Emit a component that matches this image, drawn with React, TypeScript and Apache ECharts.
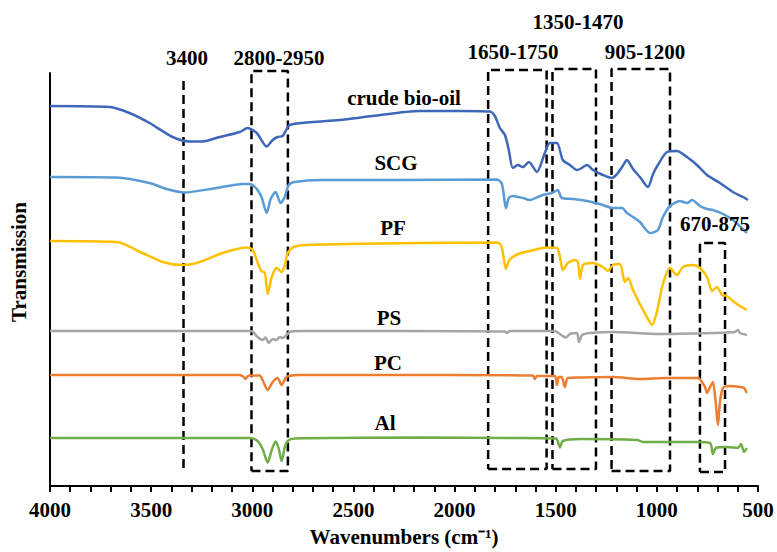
import React, { useEffect, useRef } from "react";
import * as echarts from "echarts";

// Wavenumber (cm-1) / transmission (arbitrary, offset) pairs
const crudeBioOil: [number, number][] = [
  [4000, 380], [3705, 379], [3607, 373], [3508, 363], [3394, 349], [3310, 344.5], [3246, 344.5],
  [3161, 349], [3062, 354], [3023, 358], [2978, 353], [2929, 339.5], [2899, 346], [2875, 349],
  [2850, 350], [2835, 355], [2815, 361], [2731, 363.5], [2568, 366], [2405, 370], [2173, 375],
  [1975, 375], [1826, 374.5], [1801, 370], [1776, 358], [1751, 351], [1732, 336], [1712, 318],
  [1687, 321], [1662, 319], [1633, 324], [1593, 314], [1554, 333], [1529, 343], [1494, 343],
  [1465, 326], [1430, 321], [1395, 316], [1380, 317], [1345, 321], [1316, 316], [1267, 311],
  [1222, 308], [1197, 312], [1172, 319], [1148, 326], [1118, 317], [1084, 309], [1044, 299],
  [1019, 312], [995, 321], [950, 334], [901, 335], [851, 329], [802, 321], [752, 311],
  [688, 303], [624, 294], [574, 289], [550, 286],
];
const scg: [number, number][] = [
  [4000, 309], [3671, 308.5], [3508, 303], [3424, 297], [3335, 293.5], [3176, 298], [3048, 302],
  [3013, 302], [2993, 300], [2974, 296], [2954, 289], [2929, 273], [2909, 287], [2885, 294],
  [2860, 283], [2840, 289], [2820, 301], [2791, 304], [2667, 306], [2271, 306], [1791, 306.5],
  [1766, 302], [1746, 278], [1732, 288], [1712, 290], [1662, 288], [1628, 286], [1564, 291],
  [1519, 293], [1490, 296], [1470, 288], [1415, 287], [1345, 285], [1282, 282], [1217, 278],
  [1172, 278], [1148, 273], [1118, 269], [1084, 264], [1034, 253], [995, 256], [970, 269],
  [935, 280], [886, 285], [851, 283], [826, 286], [787, 280], [752, 277], [723, 276],
  [673, 272], [624, 266], [555, 253],
];
const pf: [number, number][] = [
  [4000, 245], [3671, 244], [3543, 233], [3443, 224], [3349, 221], [3275, 223], [3146, 233],
  [3028, 238.5], [2998, 236], [2969, 221], [2949, 214], [2939, 214], [2924, 192], [2904, 209],
  [2880, 218], [2855, 214], [2840, 220], [2825, 233], [2796, 239], [2731, 241], [2173, 243],
  [1786, 243.5], [1766, 238], [1746, 217], [1732, 225], [1697, 231], [1628, 235], [1544, 238.5],
  [1494, 238], [1479, 229], [1465, 216], [1440, 223], [1405, 226], [1390, 224], [1380, 207],
  [1365, 221], [1316, 223], [1267, 219], [1242, 215], [1217, 221], [1183, 222], [1158, 204],
  [1143, 208], [1118, 196], [1084, 182], [1049, 169], [1024, 161], [1000, 174], [970, 202],
  [935, 218], [901, 211], [871, 219], [821, 221], [787, 218], [752, 209], [727, 195],
  [703, 199], [678, 191], [653, 190], [624, 185], [589, 180], [555, 176],
];
const ps: [number, number][] = [
  [4000, 155], [3508, 155], [3013, 155], [2998, 154.5], [2974, 149], [2949, 146], [2934, 148.5],
  [2919, 143], [2899, 147], [2880, 146], [2865, 149], [2850, 148], [2830, 151], [2815, 154],
  [2766, 155], [2271, 155], [1751, 154.5], [1741, 153], [1727, 155], [1504, 155], [1490, 153.5],
  [1465, 150], [1450, 148.5], [1430, 152], [1395, 153], [1385, 144], [1370, 151], [1331, 153],
  [1217, 154], [985, 152], [723, 153], [614, 154], [599, 156], [589, 153], [555, 151],
];
const pc: [number, number][] = [
  [4000, 111], [3062, 111], [3042, 109], [3033, 107], [3018, 110.5], [2964, 110.5], [2949, 106],
  [2924, 96], [2899, 104], [2875, 108], [2855, 101], [2835, 108], [2820, 110], [2766, 111],
  [2024, 111], [1613, 110.5], [1603, 107], [1593, 110], [1504, 110], [1494, 101], [1485, 109],
  [1470, 109], [1455, 99], [1440, 108], [1380, 108.5], [1217, 109], [1084, 107], [950, 108],
  [797, 108], [762, 99], [752, 93], [737, 99], [723, 104], [708, 81], [698, 61], [688, 84],
  [673, 98], [638, 100], [589, 99], [569, 98], [555, 93],
];
const al: [number, number][] = [
  [4000, 48], [3013, 48], [2974, 45], [2949, 37], [2924, 23.5], [2904, 36], [2885, 44.5],
  [2870, 38], [2855, 25], [2840, 38], [2825, 45], [2791, 47.5], [2173, 48.5], [1712, 48],
  [1499, 47.5], [1490, 45], [1479, 38.5], [1465, 45], [1380, 47], [1098, 46], [1069, 44],
  [802, 44], [737, 43], [723, 32], [708, 38], [653, 39], [599, 38], [584, 42], [569, 34], [555, 38],
];

const seriesNames = ["crude bio-oil", "SCG", "PF", "PS", "PC", "Al"];
const seriesData = [crudeBioOil, scg, pf, ps, pc, al];
const seriesColors = ["#3E67BA", "#5B9BD5", "#FFC000", "#A5A5A5", "#ED7D31", "#70AD47"];

// Highlighted band regions: [low wavenumber, high wavenumber, bottom, top]
const bandBoxes: [number, number, number, number][] = [
  [2824, 3004, 15, 415],
  [1545, 1834, 17, 416],
  [1301, 1516, 17, 417],
  [935, 1224, 15, 417],
  [663, 787, 14, 243],
];
const bandLine: [number, number, number] = [3340, 18, 408];
const bandLabels = ["3400", "2800-2950", "1650-1750", "1350-1470", "905-1200", "670-875"];
const xTicks = { min: 500, max: 4000, interval: 500 };

const FONT = "'Liberation Serif', 'Times New Roman', serif";

export default function App() {
  const ref = useRef<HTMLDivElement>(null);
  useEffect(() => {
    if (!ref.current) return;
    const chart = echarts.init(ref.current, undefined, { renderer: "svg" });
    const dash = [9, 5];
    const boxSeries = bandBoxes.map(([lo, hi, b, t]) => ({
      type: "line",
      data: [[hi, b], [lo, b], [lo, t], [hi, t], [hi, b]],
      showSymbol: false,
      symbol: "none",
      clip: false,
      silent: true,
      lineStyle: { color: "#000", width: 2.5, type: dash },
      z: 1,
    }));
    const lineSeries = {
      type: "line",
      data: [[bandLine[0], bandLine[1]], [bandLine[0], bandLine[2]]],
      symbol: "none",
      clip: false,
      silent: true,
      lineStyle: { color: "#000", width: 2.5, type: dash },
      z: 1,
    };
    const traces = seriesData.map((d, i) => ({
      name: seriesNames[i],
      type: "line",
      data: d,
      symbol: "none",
      smooth: 0.25,
      lineStyle: { color: seriesColors[i], width: 2.5 },
      z: 2,
    }));
    const txt = (text: string, x: number, y: number, extra: any = {}) => ({
      type: "text",
      x,
      y,
      ...extra,
      style: {
        text,
        fill: "#000",
        fontFamily: FONT,
        fontWeight: "bold",
        fontSize: 21,
        align: "center",
        verticalAlign: "middle",
      },
      z: 10,
    });
    chart.setOption({
      animation: false,
      backgroundColor: "#fff",
      grid: { left: 50, right: 19, top: 73, bottom: 66 },
      xAxis: {
        type: "value",
        inverse: true,
        min: xTicks.min,
        max: xTicks.max,
        interval: xTicks.interval,
        name: "Wavenumbers (cm\u207B\u00B9)",
        nameLocation: "middle",
        nameGap: 40,
        nameTextStyle: { fontFamily: FONT, fontWeight: "bold", fontSize: 21, color: "#000" },
        axisLine: { lineStyle: { color: "#000", width: 2 } },
        axisTick: { show: true, inside: false, length: 6, lineStyle: { color: "#000", width: 2 } },
        minorTick: { show: true, splitNumber: 5, length: 6, lineStyle: { color: "#000", width: 2 } },
        axisLabel: {
          fontFamily: FONT,
          fontWeight: "bold",
          fontSize: 21,
          color: "#000",
          margin: 13,
          formatter: (v: number) => String(v),
        },
        splitLine: { show: false },
        minorSplitLine: { show: false },
      },
      yAxis: {
        type: "value",
        min: 0,
        max: 413,
        axisLine: { show: true, lineStyle: { color: "#000", width: 2 } },
        axisTick: { show: false },
        axisLabel: { show: false },
        splitLine: { show: false },
      },
      series: [...boxSeries, lineSeries, ...traces],
      graphic: [
        txt(bandLabels[0], 187, 58),
        txt(bandLabels[1], 279, 58),
        txt(bandLabels[2], 513, 52),
        txt(bandLabels[3], 578, 22),
        txt(bandLabels[4], 645, 52),
        txt(bandLabels[5], 715, 224),
        txt(seriesNames[0], 404, 98),
        txt(seriesNames[1], 396, 163),
        txt(seriesNames[2], 393, 228),
        txt(seriesNames[3], 389, 318),
        txt(seriesNames[4], 388, 363),
        txt(seriesNames[5], 385, 423),
        txt("Transmission", 19, 262, { rotation: Math.PI / 2 }),
      ],
    });
    return () => chart.dispose();
  }, []);
  return (
    <div
      ref={ref}
      style={{ position: "absolute", left: 0, top: 0, width: 777, height: 552 }}
    />
  );
}
